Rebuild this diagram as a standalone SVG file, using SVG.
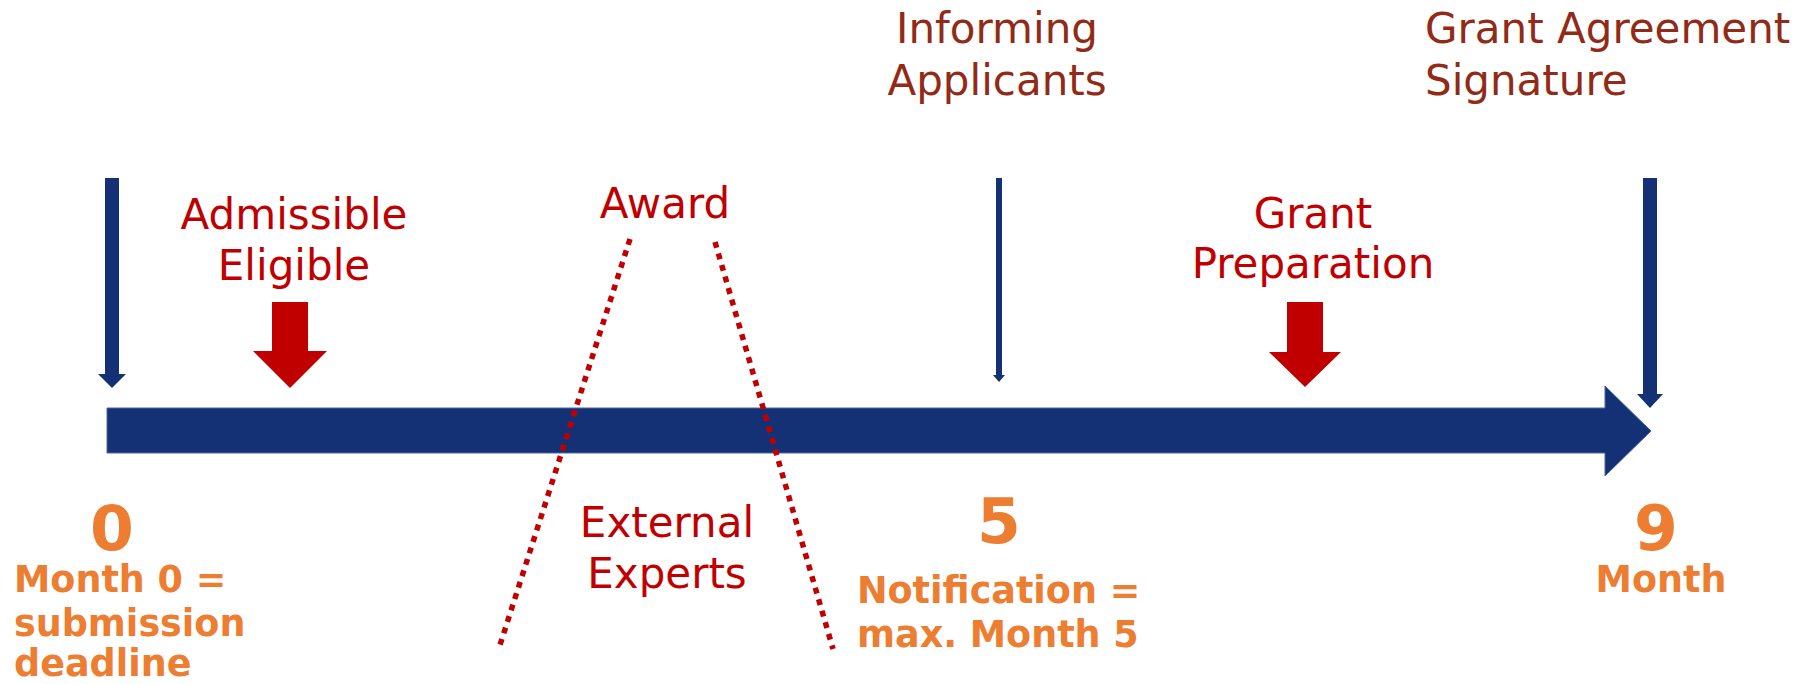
<svg xmlns="http://www.w3.org/2000/svg" width="1808" height="684" viewBox="0 0 1808 684">
<style>
.blue{fill:#143176}
.red{fill:#C00000}
.lbl{font-family:"DejaVu Sans","Verdana",sans-serif;font-size:42px;fill:#C00000}
.brn{font-family:"DejaVu Sans","Verdana",sans-serif;font-size:42px;fill:#912B18}
.org{font-family:"DejaVu Sans","Verdana",sans-serif;font-weight:bold;font-size:36.5px;fill:#ED7D31}
.num{font-family:"DejaVu Sans","Verdana",sans-serif;font-weight:bold;font-size:63px;fill:#ED7D31;text-anchor:middle}
.dot{fill:none;stroke:#C00000;stroke-width:5.5;stroke-dasharray:6 6}
</style>
<rect width="1808" height="684" fill="#ffffff"/>
<g id="connectors">
<polygon id="timeline" class="blue" stroke="#4A67A0" stroke-width="1" points="107,408 1605,408 1605,386 1651,431 1605,476 1605,453 107,453"/>
<line class="dot" x1="630" y1="239" x2="500" y2="645"/>
<line class="dot" x1="715" y1="242" x2="833" y2="649"/>
</g>
<g id="start">
<rect class="blue" x="105" y="178" width="14" height="197"/>
<polygon class="blue" points="98,374 126,374 112,388"/>
<text class="num" x="112" y="550">0</text>
<text class="org" x="14" y="592">Month 0 =</text>
<text class="org" x="14" y="636">submission</text>
<text class="org" x="14" y="676">deadline</text>
</g>
<g id="admissible">
<text class="lbl" x="294" y="229" text-anchor="middle">Admissible</text>
<text class="lbl" x="294" y="280" text-anchor="middle">Eligible</text>
<polygon class="red" points="272,302 308,302 308,351 327,351 290,388 253,351 272,351"/>
</g>
<g id="award">
<text class="lbl" x="665" y="218" text-anchor="middle">Award</text>
</g>
<g id="experts">
<text class="lbl" x="667" y="537" text-anchor="middle">External</text>
<text class="lbl" x="667" y="588" text-anchor="middle">Experts</text>
</g>
<g id="informing">
<text class="brn" x="997" y="43" text-anchor="middle">Informing</text>
<text class="brn" x="997" y="95" text-anchor="middle">Applicants</text>
<rect class="blue" x="996" y="178" width="6" height="198"/>
<polygon class="blue" points="993,375 1005,375 999,382"/>
<text class="num" x="999" y="543">5</text>
<text class="org" x="857" y="603">Notification =</text>
<text class="org" x="857" y="647">max. Month 5</text>
</g>
<g id="grantprep">
<text class="lbl" x="1313" y="228" text-anchor="middle">Grant</text>
<text class="lbl" x="1313" y="278" text-anchor="middle">Preparation</text>
<polygon class="red" points="1287,302 1323,302 1323,352 1341,352 1305,387 1269,352 1287,352"/>
</g>
<g id="signature">
<text class="brn" x="1425" y="43">Grant Agreement</text>
<text class="brn" x="1425" y="95">Signature</text>
<rect class="blue" x="1643" y="178" width="14" height="217"/>
<polygon class="blue" points="1637,394 1663,394 1650,408"/>
<text class="num" x="1656" y="550">9</text>
<text class="org" x="1661" y="592" text-anchor="middle">Month</text>
</g>
</svg>
